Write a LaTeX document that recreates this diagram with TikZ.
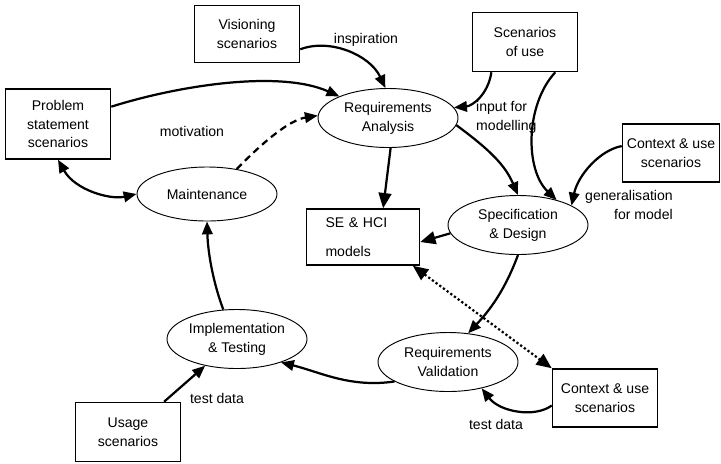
\documentclass[tikz,border=0pt]{standalone}
\usepackage{fontspec}
\setmainfont{Liberation Sans}
\usetikzlibrary{shapes.geometric, arrows.meta}

\begin{document}
\begin{tikzpicture}[x=0.03cm, y=-0.03cm,
		box/.style={draw, line width=1.3pt, align=center, inner sep=0pt, font=\fontsize{12}{16}\selectfont},
		activity/.style={draw, ellipse, line width=0.8pt, align=center, inner sep=0pt, minimum width=4.2cm, minimum height=1.77cm, font=\fontsize{12}{16}\selectfont},
		lbl/.style={inner sep=0pt, font=\fontsize{12}{16}\selectfont},
		flow/.style={line width=1.9pt, -{Triangle[length=11pt, width=9pt]}},
		bothflow/.style={line width=1.9pt, {Triangle[length=13pt, width=11pt]}-{Triangle[length=13pt, width=11pt]}}]
			\useasboundingbox (0, 0) rectangle (721, 463);
			
			\node[box, minimum width=3.15cm, minimum height=1.71cm] (visioning) at (247, 34) {Visioning\\scenarios};
			\node[box, minimum width=3.15cm, minimum height=2.1cm] (problem) at (58, 124) {Problem\\statement\\scenarios};
			\node[box, minimum width=3.15cm, minimum height=1.77cm] (scenUse) at (525, 42) {Scenarios\\of use};
			\node[box, minimum width=2.91cm, minimum height=1.74cm] (ctxTop) at (671, 153) {Context \& use\\scenarios};
			\node[box, text width=2.25cm, align=left, inner xsep=0.57cm, minimum height=1.68cm] (models) at (363, 237) {SE \& HCI\\[8.6pt]models};
			\node[box, minimum width=3.15cm, minimum height=1.74cm] (ctxBottom) at (605, 398) {Context \& use\\scenarios};
			\node[box, minimum width=3.15cm, minimum height=1.77cm] (usage) at (128, 432) {Usage\\scenarios};
			
			\node[activity] (reqAnalysis) at (388, 118) {Requirements\\Analysis};
			\node[activity, minimum height=1.62cm] (maintenance) at (207, 194) {Maintenance};
			\node[activity] (specDesign) at (518, 225) {Specification\\\& Design};
			\node[activity] (implTest) at (237, 339) {Implementation\\\& Testing};
			\node[activity] (reqValidation) at (448, 362) {Requirements\\Validation};
			
			\draw[flow] (visioning.344) .. controls (330, 38) and (370, 55) .. (reqAnalysis.95);
			\draw[flow] (problem.18) .. controls (180, 85) and (280, 70) .. (reqAnalysis.156);
			\draw[flow, dash pattern=on 6pt off 4pt] (maintenance.40) .. controls (265, 140) and (290, 120) .. (reqAnalysis.178);
			\draw[flow, {Triangle[length=11pt, width=9pt]}-{Triangle[length=11pt, width=9pt]}] (problem.south) .. controls (75, 190) and (110, 200) .. (maintenance.west);
			\draw[flow] (scenUse.222) .. controls (488, 95) and (472, 106) .. (reqAnalysis.9);
			\draw[flow] (scenUse.315) .. controls (525, 105) and (525, 170) .. (specDesign.33);
			\draw[flow] (ctxTop.172) .. controls (600, 150) and (578, 175) .. (specDesign.20);
			\draw[flow, -{Triangle[length=13pt, width=11pt]}] (reqAnalysis.275) -- (models.55);
			\draw[flow] (reqAnalysis.354) .. controls (490, 150) and (505, 165) .. (specDesign.north);
			\draw[flow, -{Triangle[length=13pt, width=11pt]}] (specDesign.187) -- (models.355);
			\draw[flow] (specDesign.south) .. controls (505, 290) and (490, 310) .. (reqValidation.55);
			\draw[bothflow, dotted] (models.330) -- (ctxBottom.north west);
			\draw[flow] (reqValidation.200) .. controls (350, 388) and (320, 372) .. (implTest.332);
			\draw[flow] (ctxBottom.188) .. controls (535, 418) and (500, 412) .. (reqValidation.322);
			\draw[flow] (usage.40) -- (implTest.220);
			\draw[flow] (implTest.115) .. controls (214, 285) and (208, 255) .. (maintenance.south);
			
			\node[lbl] (inspLabel) at (366, 40) {inspiration};
			\node[lbl] (motivLabel) at (192, 131) {motivation};
			\node[lbl, anchor=west, align=left] (inputLabel) at (476, 117) {input for\\modelling};
			\node[lbl, anchor=east, align=right] (genLabel) at (673, 205) {generalisation\\for model};
			\node[lbl] (testLabelA) at (217, 398) {test data};
			\node[lbl] (testLabelB) at (496, 424) {test data};
			
		\end{tikzpicture}
\end{document}
